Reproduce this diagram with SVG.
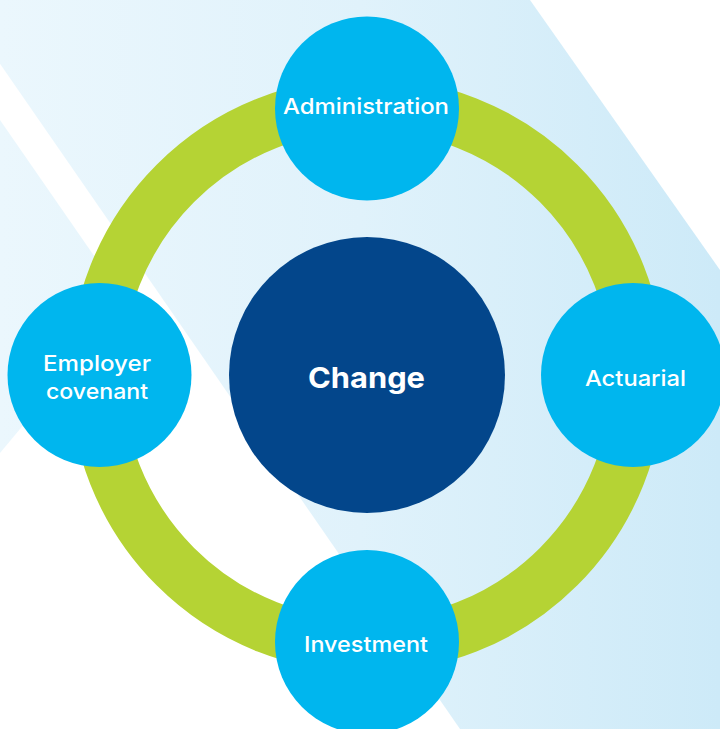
<svg xmlns="http://www.w3.org/2000/svg" width="720" height="729" viewBox="0 0 720 729">
  <defs>
    <linearGradient id="bg" gradientUnits="userSpaceOnUse" x1="0" y1="0" x2="720" y2="0">
      <stop offset="0" stop-color="#ebf7fd"/>
      <stop offset="0.5" stop-color="#e0f2fb"/>
      <stop offset="1" stop-color="#cdeaf8"/>
    </linearGradient>
    <style>
      .sat { fill: #00b6ee; }
      .core { fill: #03468b; }
      .lbl { fill: #ffffff; font-family: Inter, "Open Sans", "Liberation Sans", sans-serif; font-size: 22px; font-weight: 500; text-anchor: middle; }
      .big { fill: #ffffff; font-family: Inter, "Open Sans", "Liberation Sans", sans-serif; font-size: 29px; font-weight: 700; text-anchor: middle; }
    </style>
  </defs>
  <rect x="0" y="0" width="720" height="729" fill="#ffffff"/>
  <g id="background">
    <polygon points="-44,0 530,0 720,270 720,729 460,729" fill="url(#bg)"/>
    <polygon points="0,120 126,302 0,453" fill="url(#bg)"/>
  </g>
  <g id="connectors">
    <circle cx="367" cy="375" r="271" fill="none" stroke="#b5d334" stroke-width="53"/>
  </g>
  <g id="change">
    <circle class="core" cx="367" cy="375" r="138"/>
    <text class="big" x="366.5" y="388" textLength="117" lengthAdjust="spacingAndGlyphs">Change</text>
  </g>
  <g id="administration">
    <circle class="sat" cx="367" cy="108.5" r="92"/>
    <text class="lbl" x="366" y="114" textLength="166" lengthAdjust="spacingAndGlyphs">Administration</text>
  </g>
  <g id="actuarial">
    <circle class="sat" cx="633" cy="375" r="92"/>
    <text class="lbl" x="635.5" y="386" textLength="101" lengthAdjust="spacingAndGlyphs">Actuarial</text>
  </g>
  <g id="investment">
    <circle class="sat" cx="367" cy="642" r="92"/>
    <text class="lbl" x="366" y="652" textLength="124" lengthAdjust="spacingAndGlyphs">Investment</text>
  </g>
  <g id="employer-covenant">
    <circle class="sat" cx="99.5" cy="375" r="92"/>
    <text class="lbl" x="97" y="371" textLength="108" lengthAdjust="spacingAndGlyphs">Employer</text>
    <text class="lbl" x="97" y="399" textLength="102" lengthAdjust="spacingAndGlyphs">covenant</text>
  </g>
</svg>
